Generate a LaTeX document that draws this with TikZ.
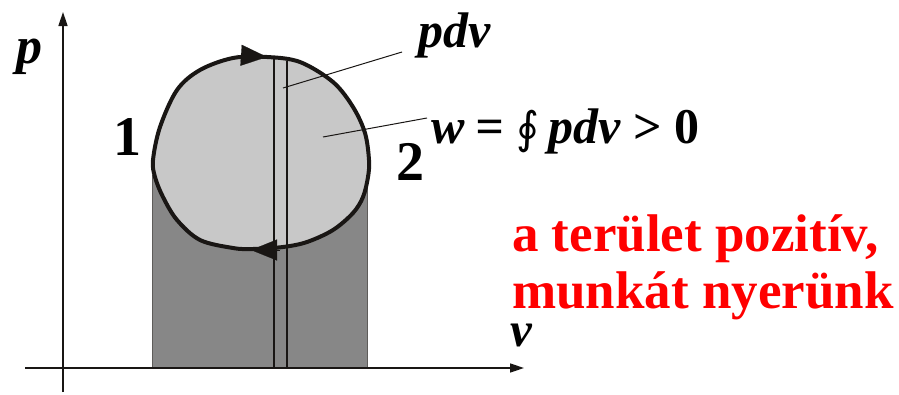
\documentclass[tikz,border=0pt]{standalone}
\usepackage{fontspec}
\setmainfont{Liberation Serif}
\newfontfamily\symfont{DejaVu Sans}
\usepackage{tikz}
\usetikzlibrary{arrows.meta}

\definecolor{lightarea}{RGB}{200,200,200}
\definecolor{darkarea}{RGB}{135,135,135}
\definecolor{pen}{RGB}{25,22,20}

\begin{document}
\begin{tikzpicture}[x=1pt, y=-1pt,
    axis/.style = {draw=pen, line width=1.6, -{Triangle[length=14, width=9]}},
    strip/.style = {draw=pen, line width=1.6},
    leader/.style = {draw=pen, line width=1},
    loopline/.style = {draw=pen, line width=4},
    dirtip/.style = {pen, line width=0.1, -{Triangle[length=26, width=21]}},
    lbl/.style = {anchor=base west, inner sep=0, font=\fontsize{52}{56}\selectfont\bfseries\itshape},
    num/.style = {anchor=base west, inner sep=0, font=\fontsize{56}{60}\selectfont\bfseries},
    note/.style = {anchor=base west, inner sep=0, align=left, text=red, font=\fontsize{53}{57}\selectfont\bfseries}]
    \useasboundingbox (0,0) rectangle (899,394);

    % area under the lower branch
    \fill[darkarea, draw=pen!70, line width=0.8] (152,175) rectangle (367,368);

    % the cycle
    \def\cyclepts{(153,160) (160,127) (177,90) (200,70) (233,58) (267,57) (300,62)
        (333,82) (353,107) (365,133) (369,160) (368,177) (363,197) (353,213) (333,230)
        (307,242) (283,247) (253,249) (233,248) (200,240) (177,220) (163,197) (155,177)}
    \fill[lightarea] plot[smooth cycle, tension=0.55] coordinates {\cyclepts};

    % the thin strip p dv
    \coordinate (s1top) at (274,57);
    \coordinate (s1bot) at (274,368);
    \coordinate (s2top) at (287,61);
    \coordinate (s2bot) at (287,368);
    \draw[strip] (s1top) -- (s1bot);
    \draw[strip] (s2top) -- (s2bot);

    \draw[loopline] plot[smooth cycle, tension=0.55] coordinates {\cyclepts};

    % direction of the cycle
    \draw[dirtip] (237,55) -- (267,57);
    \draw[dirtip] (280,250) -- (251,250);

    % axes
    \coordinate (O) at (63,368);
    \coordinate (ptop) at (63,12);
    \coordinate (vend) at (524,368);
    \draw[axis] (63,392) -- (ptop);
    \draw[axis] (25,368) -- (vend);

    \node[lbl] (plab) at (16,63) {p};
    \node[lbl, font=\fontsize{49}{54}\selectfont\bfseries\itshape, text height=20pt, text depth=0pt] (vlab) at (510,346) {v};
    \node[num] (one) at (113,155) {1};
    \node[num] (two) at (396,180) {2};

    % labels with leaders
    \node[lbl, font=\fontsize{50}{54}\selectfont\bfseries\itshape] (pdv) at (418,47) {pdv};
    \node[lbl, font=\fontsize{50}{54}\selectfont\bfseries\itshape] (work) at (431,143)
        {w\kern-2pt{} = {\symfont\mdseries\upshape\fontsize{44}{50}\selectfont∮\kern-3pt} pdv \textup{>} \textup{0}};
    \coordinate (stripin) at (283,88);
    \coordinate (areain) at (323,137);
    \draw[leader] (stripin) -- (402,52);
    \draw[leader] (areain) -- (427,118);

    \node[note, text depth=0pt] (remark) at (512,308) {a terület pozitív,\\munkát nyerünk};
\end{tikzpicture}
\end{document}
